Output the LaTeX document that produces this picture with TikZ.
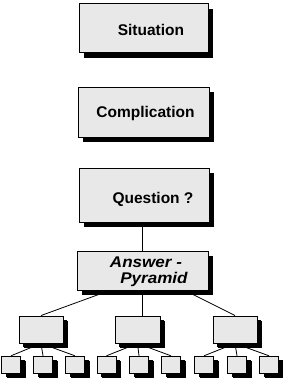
\documentclass[tikz,border=0pt]{standalone}
\usepackage{fontspec}
\setmainfont{Liberation Sans}
\usetikzlibrary{shadows,backgrounds}
\definecolor{boxgray}{HTML}{E8E8E8}
\tikzset{
  box/.style={draw=black, line width=0.9pt, fill=boxgray, rectangle, inner sep=0pt,
    drop shadow={shadow xshift=5pt, shadow yshift=-5pt, fill=black, opacity=1}},
  sbox/.style={box, drop shadow={shadow xshift=4pt, shadow yshift=-4pt, fill=black, opacity=1}},
  lbl/.style={font=\fontsize{15.5}{16}\selectfont\bfseries, inner sep=0pt, anchor=base},
  albl/.style={font=\fontsize{15.5}{16}\selectfont\bfseries\itshape, inner sep=0pt, anchor=base, xscale=1.1},
  conn/.style={draw=black, line width=0.8pt}
}
\begin{document}
\begin{tikzpicture}[x=1pt,y=-1pt]
\useasboundingbox (0,0) rectangle (283,378);
\node[box, minimum width=129pt, minimum height=49pt] (sit) at (143.5,28) {};
\node[box, minimum width=131pt, minimum height=50pt] (comp) at (143.5,112) {};
\node[box, minimum width=130pt, minimum height=54pt] (q) at (144,195) {};
\node[box, minimum width=131pt, minimum height=39pt] (ans) at (142.5,270.5) {};
\node[sbox, minimum width=44pt, minimum height=27pt] (m1) at (41,329.5) {};
\node[sbox, minimum width=45pt, minimum height=27pt] (m2) at (137.5,329.5) {};
\node[sbox, minimum width=44pt, minimum height=27pt] (m3) at (235,329.5) {};
\foreach \n/\x in {s1/11,s2/43,s3/75,s4/106.5,s5/139,s6/171,s7/204,s8/237,s9/269}
  \node[sbox, minimum width=19pt, minimum height=17pt] (\n) at (\x,364.75) {};
\node[lbl] (sitl) at (151,35) {Situation};
\node[lbl] (compl) at (145.5,117) {Complication};
\node[lbl] (ql) at (153,203.5) {Question ?};
\node[albl] (al1) at (146,267.5) {Answer -};
\node[albl] (al2) at (154,283) {Pyramid};
\coordinate (aL) at (111,290);
\coordinate (aR) at (184,290);
\begin{scope}[on background layer]
\draw[conn] (q.south -| ans.north) -- (ans.north);
\draw[conn] (ans.south) -- (ans.south |- m2.north);
\draw[conn] (aL) -- (m1.north);
\draw[conn] (aR) -- (m3.north);
\draw[conn] (m1.south) -- (s1.north);
\draw[conn] (m1.south) -- (s2.north);
\draw[conn] (m1.south) -- (s3.north);
\draw[conn] (m2.south) -- (s4.north);
\draw[conn] (m2.south) -- (s5.north);
\draw[conn] (m2.south) -- (s6.north);
\draw[conn] (m3.south) -- (s7.north);
\draw[conn] (m3.south) -- (s8.north);
\draw[conn] (m3.south) -- (s9.north);
\end{scope}
\end{tikzpicture}
\end{document}
